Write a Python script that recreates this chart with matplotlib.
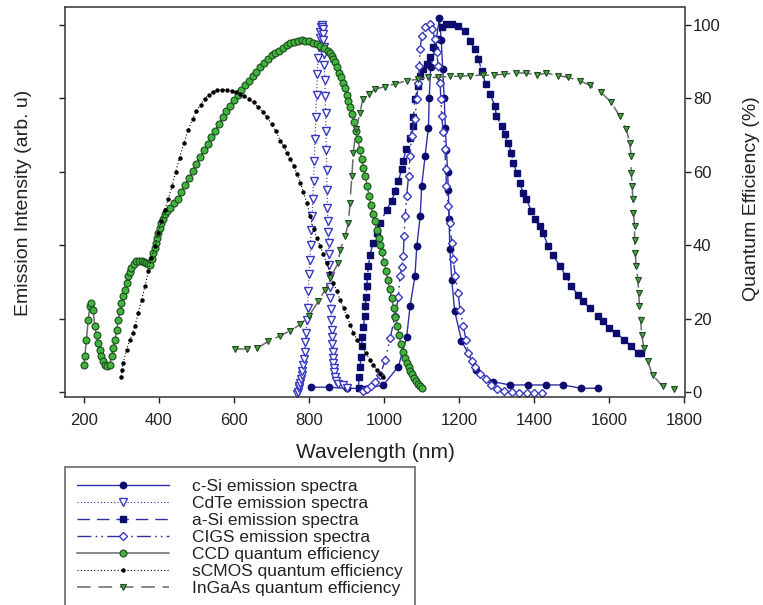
import matplotlib
matplotlib.use("Agg")
import matplotlib.pyplot as plt

plt.rcParams['font.family'] = ['Liberation Sans', 'DejaVu Sans']

# ---------------- data (wavelength nm, value) ----------------
CSI = [(805, 1.3), (852, 1.3), (900, 1.0), (950, 0.9), (998, 1.9), (1038, 6.9), (1060, 15.0),
       (1069, 23.3), (1082, 31.5), (1087, 39.7), (1096, 47.9), (1100, 56.0), (1109, 64.3),
       (1118, 72.0), (1120, 80.0), (1124, 88.4), (1135, 93.4), (1147, 101.8), (1152, 96.0),
       (1156, 88.0), (1160, 80.0), (1163, 72.0), (1166, 66.0), (1169, 60.0), (1171, 55.0),
       (1173, 47.0), (1175, 39.0), (1180, 30.6), (1188, 22.0), (1206, 14.0), (1246, 6.0),
       (1290, 2.8), (1335, 1.9), (1383, 1.9), (1432, 1.9), (1476, 1.9), (1525, 1.0), (1569, 1.0)]

CDTE = [(768, -0.5), (770, 0.0), (772, 1.0), (774, 1.7), (776, 2.5), (778, 3.5), (780, 4.6),
        (782, 5.8), (784, 7.3), (786, 9.0), (788, 11.0), (790, 13.5), (792, 16.0), (794, 19.5),
        (796, 23.0), (798, 27.5), (800, 32.0), (802, 36.0), (804, 40.0), (806, 44.0), (808, 48.0),
        (810, 52.5), (812, 57.5), (814, 63.0), (816, 69.0), (818, 75.0), (820, 81.0), (822, 86.5),
        (824, 91.0), (826, 94.0), (828, 96.5), (830, 98.0), (832, 99.3), (834, 100.0),
        (835, 99.5), (836, 98.8), (837, 97.5), (838, 96.0), (839, 94.0), (840, 92.0), (841, 89.0),
        (842, 85.0), (843, 80.5), (844, 76.0), (845, 71.0), (846, 66.0), (847, 60.5), (848, 55.0),
        (849, 50.0), (850, 46.5), (851, 43.5), (852, 40.5), (853, 37.5), (854, 34.5), (855, 31.5),
        (856, 28.5), (857, 25.5), (858, 22.5), (859, 19.5), (860, 17.0), (861, 15.0), (862, 13.0),
        (863, 11.0), (864, 9.3), (865, 7.8), (866, 6.5), (867, 5.3), (869, 4.0), (872, 3.0),
        (878, 2.2), (890, 1.8), (900, 1.2)]

ASI = [(932, 1.0), (933, 4.2), (936, 6.9), (938, 9.6), (940, 12.4), (941.5, 15.1), (945, 17.8),
       (948, 20.6), (950, 23.3), (952, 26.0), (954, 28.8), (955.5, 31.5), (958, 34.2), (963, 37.4),
       (970, 40.6), (980, 43.4), (989, 46.0), (1007, 49.7), (1020, 52.0), (1029, 54.7),
       (1038, 57.5), (1047, 60.7), (1051, 62.9), (1058, 66.1), (1069, 69.3), (1076, 72.5),
       (1078, 74.8), (1082, 79.8), (1091, 83.4), (1096, 86.1), (1104, 88.0), (1113, 89.3),
       (1122, 91.2), (1131, 94.0), (1140, 96.2), (1153, 99.4), (1166, 100.3), (1180, 100.3),
       (1197, 99.8), (1215, 98.4), (1228, 95.7), (1242, 93.4), (1251, 90.7), (1260, 87.5),
       (1270, 84.0), (1282, 81.1), (1295, 78.0), (1299, 75.2), (1313, 72.5), (1321, 70.2),
       (1330, 67.9), (1339, 65.2), (1344, 62.5), (1353, 59.7), (1361, 57.0), (1370, 54.3),
       (1379, 52.5), (1392, 49.3), (1401, 47.0), (1414, 45.2), (1423, 43.4), (1437, 39.7),
       (1450, 37.4), (1468, 34.2), (1485, 31.5), (1499, 28.8), (1516, 26.5), (1530, 24.7),
       (1547, 22.9), (1569, 20.6), (1583, 19.2), (1600, 17.4), (1618, 16.0), (1640, 14.2),
       (1658, 12.4), (1676, 10.6), (1685, 10.6)]

CIGS = [(945, 0.3), (955, 0.8), (965, 1.5), (975, 2.8), (989, 4.5), (1003, 8.7), (1016, 14.7),
        (1029, 20.6), (1038, 26.0), (1042, 31.5), (1047, 34.0), (1051, 37.0), (1053, 42.4),
        (1056, 47.9), (1060, 53.4), (1065, 58.8), (1069, 64.3), (1073, 69.8), (1082, 74.3),
        (1087, 79.8), (1091, 84.3), (1094, 88.9), (1096, 93.4), (1100, 97.1), (1109, 99.4),
        (1122, 100.3), (1128, 99.0), (1135, 96.2), (1140, 92.5), (1144, 88.9), (1149, 84.3),
        (1151, 79.8), (1153, 75.2), (1158, 70.7), (1162, 66.1), (1164, 60.7), (1166, 56.1),
        (1171, 50.6), (1175, 46.1), (1180, 40.6), (1184, 36.1), (1190, 31.5), (1197, 27.0),
        (1202, 22.4), (1211, 17.9), (1218, 14.2), (1224, 10.6), (1233, 8.5), (1242, 6.9),
        (1255, 5.0), (1270, 3.5), (1285, 2.0), (1300, 0.8), (1320, 0.2), (1340, 0.0),
        (1360, -0.3), (1380, -0.3), (1400, -0.3), (1420, -0.3)]

CCD = [(200, 7.4), (203, 9.7), (207, 14.2), (212, 19.7), (216, 23.3), (220, 24.2), (225, 22.4),
       (229, 17.9), (234, 15.5), (238, 13.3), (243, 11.3), (247, 9.7), (252, 8.3), (256, 7.4),
       (262, 7.2), (269, 7.4), (274, 9.7), (278, 12.0), (283, 14.2), (288, 17.0), (292, 19.7),
       (296, 22.0), (300, 24.2), (305, 26.2), (309, 27.9), (314, 29.8), (318, 31.5), (323, 32.8),
       (327, 33.8), (333, 34.8), (340, 35.6), (347, 35.8), (354, 35.6), (361, 35.4), (367, 35.2),
       (372, 34.9), (376, 34.7), (381, 36.3), (385, 37.9), (389, 39.3), (392, 40.6), (395, 42.0),
       (398, 43.4), (402, 44.8), (407, 46.1), (411, 47.2), (416, 48.4), (422, 49.3), (429, 50.2),
       (440, 51.5), (450, 52.5), (460, 54.5), (470, 56.5), (480, 58.3), (490, 60.2), (500, 62.2),
       (510, 64.0), (520, 65.8), (530, 67.6), (540, 69.5), (550, 71.2), (560, 73.0), (570, 74.8),
       (580, 76.5), (590, 78.0), (600, 79.5), (610, 80.8), (620, 82.2), (630, 83.5), (640, 84.8),
       (650, 86.0), (660, 87.3), (670, 88.5), (680, 89.7), (690, 90.8), (700, 91.7), (710, 92.4),
       (720, 93.0), (730, 93.7), (740, 94.4), (750, 95.0), (760, 95.4), (770, 95.7), (780, 95.8),
       (790, 95.7), (800, 95.5), (810, 95.2), (820, 94.8), (830, 94.3), (840, 93.8), (850, 93.0),
       (855, 92.3), (860, 91.5), (865, 90.7), (870, 89.8), (875, 88.5), (880, 87.0), (885, 85.8),
       (890, 84.3), (895, 82.8), (900, 81.0), (905, 79.3), (910, 77.5), (915, 75.8), (920, 73.5),
       (925, 71.0), (930, 68.8), (935, 66.0), (940, 63.4), (945, 61.0), (950, 58.8), (955, 56.0),
       (960, 53.5), (965, 51.0), (970, 48.5), (975, 46.5), (980, 44.0), (985, 42.0), (990, 40.0),
       (995, 38.0), (1000, 35.5), (1005, 33.0), (1010, 30.5), (1015, 28.0), (1020, 25.5),
       (1025, 23.0), (1030, 20.5), (1035, 18.0), (1040, 15.5), (1045, 13.0), (1050, 11.0),
       (1055, 9.3), (1060, 8.0), (1065, 6.9), (1070, 5.8), (1075, 4.8), (1080, 3.8), (1085, 3.0),
       (1090, 2.2), (1095, 1.5), (1100, 1.0)]

SCMOS = [(300, 4.2), (301, 6.0), (305, 7.8), (314, 11.5), (323, 14.2), (330, 16.0), (336, 17.9),
         (345, 21.5), (354, 25.1), (363, 28.8), (372, 32.9), (380, 36.5), (389, 39.7), (398, 43.4),
         (407, 46.5), (416, 49.7), (425, 52.5), (435, 56.0), (445, 60.0), (455, 63.8), (467, 67.9),
         (478, 71.3), (490, 74.5), (500, 76.5), (511, 78.3), (522, 79.8), (533, 81.0), (544, 81.8),
         (555, 82.2), (568, 82.4), (582, 82.3), (595, 81.9), (606, 81.6), (617, 81.1), (628, 80.5),
         (640, 79.8), (653, 78.9), (665, 77.5), (677, 76.3), (688, 74.8), (700, 73.0), (712, 71.0),
         (723, 68.5), (732, 67.0), (741, 65.2), (750, 63.5), (759, 61.6), (768, 59.3), (777, 57.0),
         (785, 54.5), (794, 51.5), (803, 48.0), (812, 44.3), (821, 42.0), (830, 39.7), (838, 37.5),
         (847, 35.2), (856, 32.5), (865, 29.7), (874, 27.4), (883, 25.1), (892, 22.8), (901, 20.6),
         (910, 18.3), (918, 16.0), (929, 14.2), (940, 12.4), (951, 10.5), (963, 8.7), (971, 7.3),
         (980, 6.0), (990, 4.8), (998, 4.0)]

INGAAS = [(604, 11.7), (635, 11.7), (661, 11.9), (692, 13.8), (723, 15.3), (750, 16.7), (777, 18.4),
          (799, 20.6), (825, 24.7), (843, 27.9), (856, 31.0), (878, 35.2), (883, 38.8), (896, 42.4),
          (905, 46.1), (909, 51.6), (914, 58.8), (918, 65.2), (925, 71.6), (936, 76.1), (943, 79.8),
          (960, 81.3), (976, 82.5), (1003, 83.2), (1029, 83.9), (1060, 84.8), (1091, 85.2),
          (1118, 85.7), (1144, 85.7), (1175, 86.0), (1202, 86.0), (1228, 86.2), (1264, 86.3),
          (1292, 86.3), (1319, 86.6), (1350, 86.9), (1379, 86.9), (1406, 86.3), (1432, 86.9),
          (1463, 86.2), (1490, 85.7), (1521, 84.8), (1547, 83.6), (1578, 81.6), (1605, 78.9),
          (1627, 75.2), (1645, 71.6), (1654, 67.9), (1658, 64.3), (1658, 59.7), (1661, 56.1),
          (1662, 52.5), (1664, 48.8), (1667, 45.2), (1667, 41.5), (1669, 37.9), (1671, 34.2),
          (1676, 30.6), (1678, 27.0), (1680, 23.3), (1683, 19.7), (1686, 15.6), (1692, 11.9),
          (1702, 8.3), (1715, 4.6), (1742, 1.5), (1773, 0.9)]

LABELS = ["c-Si emission spectra", "CdTe emission spectra", "a-Si emission spectra",
          "CIGS emission spectra", "CCD quantum efficiency", "sCMOS quantum efficiency",
          "InGaAs quantum efficiency"]

X_TICKS = [200, 400, 600, 800, 1000, 1200, 1400, 1600, 1800]
Y_TICKS = [0, 20, 40, 60, 80, 100]

# ---------------- figure ----------------
W, H = 763, 605
fig = plt.figure(figsize=(W / 100, H / 100), dpi=100)
L, R, T, B = 65, 684.5, 7.3, 396.7
ax = fig.add_axes([L / W, 1 - B / H, (R - L) / W, (B - T) / H])

NAVY_L = '#2f2fa8'
NAVY_M = '#0c0c6e'
NAVY_E = '#3838c0'
GREEN = '#3fb53f'
GREEN_E = '#1e4a1e'
GREEN2 = '#4e9e4e'
GRAY = '#6a6a6a'


def xy(pairs):
    return [p[0] for p in pairs], [p[1] for p in pairs]


styles = [
    (CSI, dict(color=NAVY_L, lw=1.0, ls='-', marker='o', ms=4.6, mfc=NAVY_M, mec=NAVY_M)),
    (CDTE, dict(color=NAVY_L, lw=0.8, ls=(0, (1, 2)), marker='v', ms=5.2, mfc='white',
                mec=NAVY_E, mew=1.0)),
    (ASI, dict(color=NAVY_L, lw=1.0, ls=(0, (9, 5)), marker='s', ms=4.4, mfc=NAVY_M, mec=NAVY_M)),
    (CIGS, dict(color=NAVY_L, lw=1.0, ls=(0, (10, 3, 1.2, 3, 1.2, 3)), marker='D', ms=4.4,
                mfc='white', mec=NAVY_E, mew=1.0)),
    (CCD, dict(color=GRAY, lw=1.1, ls='-', marker='o', ms=5.0, mfc=GREEN, mec=GREEN_E, mew=0.8)),
    (SCMOS, dict(color='black', lw=0.8, ls=(0, (1, 2)), marker='o', ms=2.2, mfc='black',
                 mec='black')),
    (INGAAS, dict(color=GRAY, lw=1.1, ls=(0, (9, 5)), marker='v', ms=4.4, mfc=GREEN2,
                  mec=GREEN_E, mew=0.8)),
]

handles = []
for (data, st), lab in zip(styles, LABELS):
    x, y = xy(data)
    line, = ax.plot(x, y, label=lab, **st)
    handles.append(line)

ax.set_xlim(150, 1800)
ax.set_ylim(-1.3, 104.8)
ax.set_xticks(X_TICKS)
ax.set_yticks(Y_TICKS)
ax.tick_params(axis='both', direction='out', length=4, width=1.0, labelsize=12,
               colors='#222222')
ax.tick_params(axis='y', left=True, right=True, labelleft=False, labelright=True, pad=2)
ax.tick_params(axis='x', pad=8)
for s in ax.spines.values():
    s.set_linewidth(1.1)
    s.set_color('#333333')

fig.text(24 / W, 1 - 203 / H, 'Emission Intensity (arb. u)', rotation=90,
         ha='center', va='center', fontsize=14, color='#222222')
fig.text(751 / W, 1 - 199 / H, 'Quantum Efficiency (%)', rotation=90,
         ha='center', va='center', fontsize=14, color='#222222')
fig.text(375 / W, 1 - 452 / H, 'Wavelength (nm)', ha='center', va='center',
         fontsize=15, color='#222222')

leg = fig.legend(handles=handles, labels=LABELS, loc='upper left',
                 bbox_to_anchor=(65 / W, 1 - 467 / H), bbox_transform=fig.transFigure,
                 borderaxespad=0, frameon=True, fancybox=False, fontsize=12.5,
                 handlelength=5.3, handletextpad=1.3, labelspacing=0.1, borderpad=0.7,
                 numpoints=1)
leg.get_frame().set_edgecolor('#444444')
leg.get_frame().set_linewidth(1.2)
for t in leg.get_texts():
    t.set_color('#222222')

fig.savefig('out.png', dpi=100)
